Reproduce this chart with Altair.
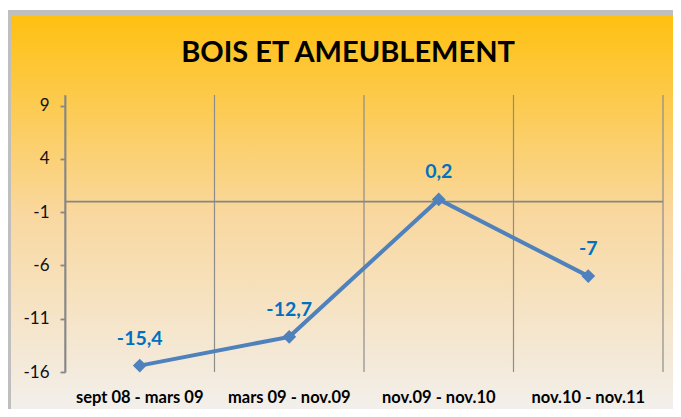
import altair as alt
import pandas as pd

categories = ["sept 08 - mars 09", "mars 09 - nov.09", "nov.09 - nov.10", "nov.10 - nov.11"]
values = [-15.4, -12.7, 0.2, -7]
labels = ["-15,4", "-12,7", "0,2", "-7"]
y_ticks = [9, 4, -1, -6, -11, -16]
title_text = "BOIS ET AMEUBLEMENT"

df = pd.DataFrame({"cat": categories, "val": values, "lab": labels})
one = pd.DataFrame({"k": [0], "t": [title_text]})

W, H = 598, 277
xs = alt.Scale(domain=categories, paddingInner=0, paddingOuter=0)
ys = alt.Scale(domain=[-16, 10], nice=False, zero=False)

grad = alt.LinearGradient(
    gradient="linear",
    x1=0, x2=0, y1=0, y2=1,
    stops=[
        alt.GradientStop(color="#FFC010", offset=0),
        alt.GradientStop(color="#F9D8A0", offset=0.5),
        alt.GradientStop(color="#F2F0EE", offset=1),
    ],
)

frame = alt.Chart(one).mark_rect(color="#BFBFBF", clip=False).encode(
    x=alt.value(-57), x2=alt.value(616), y=alt.value(-85), y2=alt.value(322)
)
bg = alt.Chart(one).mark_rect(fill=grad, clip=False).encode(
    x=alt.value(-54), x2=alt.value(616), y=alt.value(-80), y2=alt.value(322)
)
title = alt.Chart(one).mark_text(font="Lato", fontSize=29, fontWeight="bold", color="#000000",
                                 align="center", baseline="alphabetic", clip=False).encode(
    x=alt.value(W / 2 - 16), y=alt.value(-33), text="t:N"
)

vgrid = alt.Chart(df).mark_rule(color="#8C8C8C", strokeWidth=1.2).encode(
    x=alt.X("cat:N", bandPosition=0, scale=xs, sort=categories,
            axis=alt.Axis(title=None, domain=False, ticks=False, labelAngle=0, zindex=2,
                          labelFont="Lato", labelFontWeight="bold", labelFontSize=16.5,
                          labelColor="#000000", labelPadding=17, labelBaseline="top"))
)
vgrid_end = alt.Chart(df).transform_filter(
    alt.datum.cat == categories[-1]
).mark_rule(color="#8C8C8C", strokeWidth=1.2).encode(
    x=alt.X("cat:N", bandPosition=1, scale=xs, sort=categories)
)

zero = alt.Chart(one).mark_rule(color="#868686", strokeWidth=1.8).encode(
    y=alt.datum(0)
)

base = alt.Chart(df).encode(
    x=alt.X("cat:N", scale=xs, sort=categories),
    y=alt.Y("val:Q", scale=ys,
            axis=alt.Axis(title=None, values=y_ticks, grid=False, domainColor="#868686", zindex=2,
                          domainWidth=1.8, tickColor="#868686", tickSize=5, tickWidth=1.8,
                          labelExpr="datum.value + ''",
                          labelFont="Lato", labelFontSize=17, labelColor="#111111",
                          labelPadding=11)),
)
line = base.mark_line(color="#4F81BD", strokeWidth=4)
pts = base.mark_point(shape="diamond", filled=True, size=190, color="#4F81BD", opacity=1)
txt = base.mark_text(font="Lato", fontWeight="bold", fontSize=19.5, color="#0070C0",
                     baseline="alphabetic", dy=-21).encode(text="lab:N")

chart = alt.layer(frame, bg, title, vgrid, vgrid_end, zero, line, pts, txt).properties(
    width=W, height=H,
    autosize=alt.AutoSizeParams(type="none"),
    padding={"left": 57, "top": 87, "right": 10, "bottom": 37},
).configure_view(stroke=None).configure(background="white")

chart.save("out.html", embed_options={"renderer": "svg", "actions": False})
